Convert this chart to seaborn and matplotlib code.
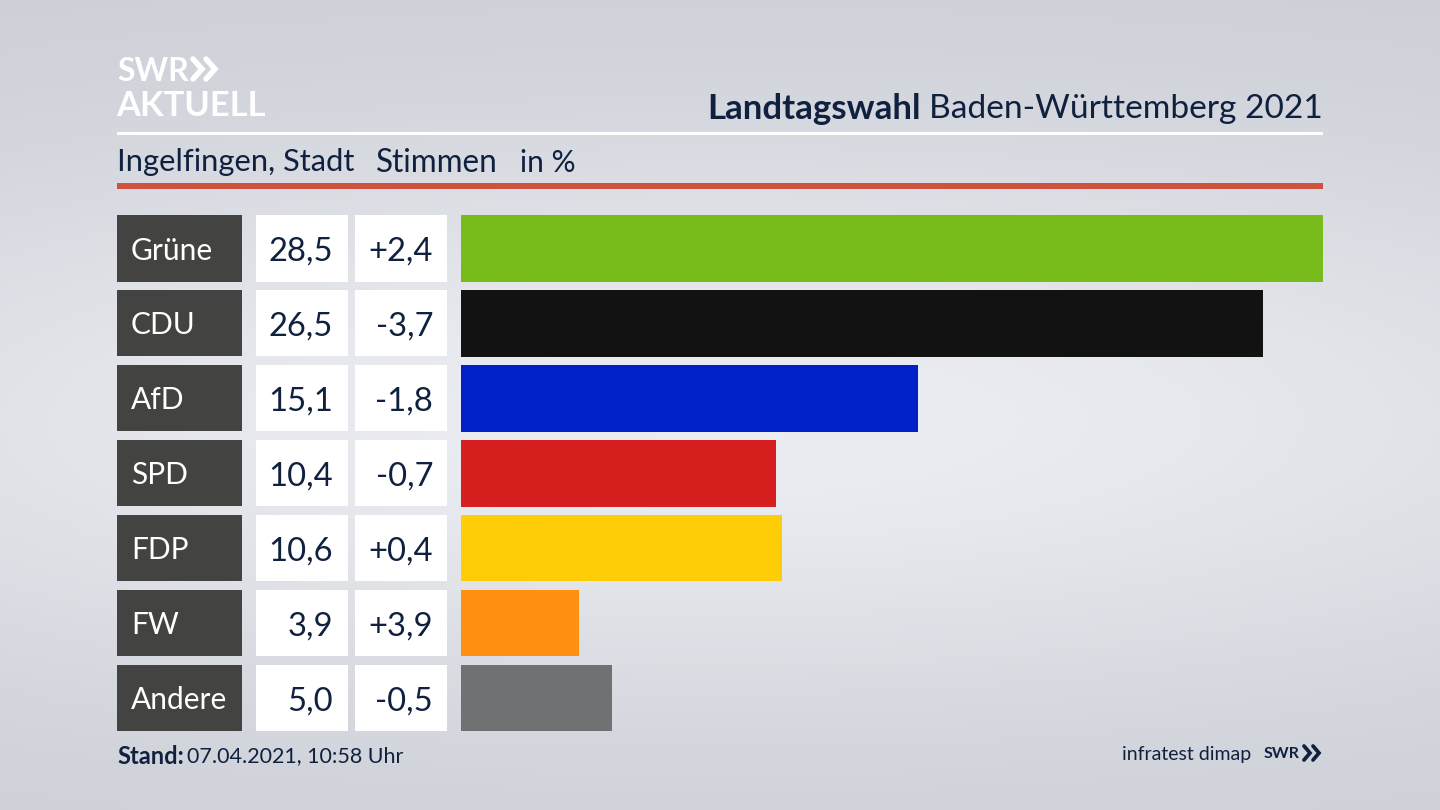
import numpy as np
import pandas as pd
import matplotlib
matplotlib.use('Agg')
import matplotlib.pyplot as plt
from matplotlib.colors import LinearSegmentedColormap
from matplotlib.lines import Line2D
import seaborn as sns

parties = ['Grüne', 'CDU', 'AfD', 'SPD', 'FDP', 'FW', 'Andere']
shares = [28.5, 26.5, 15.1, 10.4, 10.6, 3.9, 5.0]
changes = ['+2,4', '-3,7', '-1,8', '-0,7', '+0,4', '+3,9', '-0,5']
colors = ['#78BC1B', '#121212', '#0021C8', '#D6201F', '#FFCC08', '#FF9012', '#707172']

W, H = 1440, 810
NAVY = '#10213F'

sns.set_theme(style='white')
plt.rcParams['font.family'] = ['Lato', 'DejaVu Sans']

fig = plt.figure(figsize=(W / 100, H / 100), dpi=100)


def px_axes(x0, y0, x1, y1, **kw):
    return fig.add_axes([x0 / W, 1 - y1 / H, (x1 - x0) / W, (y1 - y0) / H], **kw)


def label(x, y, s, **kw):
    kw.setdefault('color', NAVY)
    kw.setdefault('va', 'center_baseline')
    fig.text(x / W, 1 - y / H, s, **kw)


def box(x0, y0, x1, y1, color):
    fig.add_artist(plt.Rectangle((x0 / W, 1 - y1 / H), (x1 - x0) / W, (y1 - y0) / H, color=color, lw=0))


def chevrons(x, y, half_h, w, dx, lw, color):
    # the two arrow heads of the SWR logo
    for off in (0, dx):
        xs = np.array([x + off, x + off + w, x + off])
        ys = np.array([y - half_h, y, y + half_h])
        fig.add_artist(Line2D(xs / W, 1 - ys / H, color=color, lw=lw, solid_joinstyle='miter'))


# background gradient, lighter in the middle
bg = fig.add_axes([0, 0, 1, 1], zorder=-1)
yy = np.linspace(0, 1, 200)[:, None]
xx = np.linspace(0, 1, 200)[None, :]
glow = np.exp(-((yy - 0.52) / 0.36) ** 2) * np.exp(-((xx - 0.5) / 0.8) ** 2)
bg.imshow(glow, cmap=LinearSegmentedColormap.from_list('bg', ['#CBCED5', '#EBEDF2']),
          aspect='auto', vmin=0, vmax=1)
bg.axis('off')

# header
label(117, 69, 'SWR', color='white', fontsize=23, fontweight='bold')
chevrons(193, 69, 10, 9, 13, 4.0, 'white')
label(116, 103, 'AKTUELL', color='white', fontsize=24.8, fontweight='bold')
label(1323, 106, 'Baden-Württemberg 2021', fontsize=24.1, ha='right')
label(921, 106, 'Landtagswahl', fontsize=25.1, fontweight='bold', ha='right')
label(117, 160, 'Ingelfingen, Stadt', fontsize=22.2)
label(376, 160, 'Stimmen', fontsize=22.7)
label(520, 160, 'in %', fontsize=21.5)
box(117, 132, 1323, 135, 'white')
box(117, 183, 1323, 189, '#CF5240')

# bars
df = pd.DataFrame({'party': parties, 'share': shares})
ax = px_axes(461, 211, 1323, 735.6)
ax.patch.set_alpha(0)
sns.barplot(data=df, y='party', x='share', hue='party', palette=colors, legend=False,
            width=0.887, saturation=1, linewidth=0, ax=ax)
ax.set_xlim(0, 28.5)
ax.axis('off')

# table columns
row_h = 74.95
for i, party in enumerate(parties):
    top = 215 + i * row_h
    bottom = top + 66.5
    mid = top + 33.5
    box(117, top, 241.5, bottom, '#434441')
    box(256, top, 348, bottom, 'white')
    box(355, top, 447, bottom, 'white')
    label(131, mid - 0.5, party, color='white', fontsize=21.5)
    label(333, mid, f'{shares[i]:.1f}'.replace('.', ','), fontsize=23.6, ha='right')
    label(433, mid, changes[i], fontsize=23.6, ha='right')

# footer
label(117, 754, 'Stand:', fontsize=17, fontweight='bold')
label(187, 754, '07.04.2021, 10:58 Uhr', fontsize=15.5)
label(1251, 753, 'infratest dimap', fontsize=14, ha='right')
label(1299, 753, 'SWR', fontsize=11.5, fontweight='bold', ha='right')
chevrons(1304, 753, 7, 6, 9, 2.7, NAVY)

fig.savefig('out.png', dpi=100)
